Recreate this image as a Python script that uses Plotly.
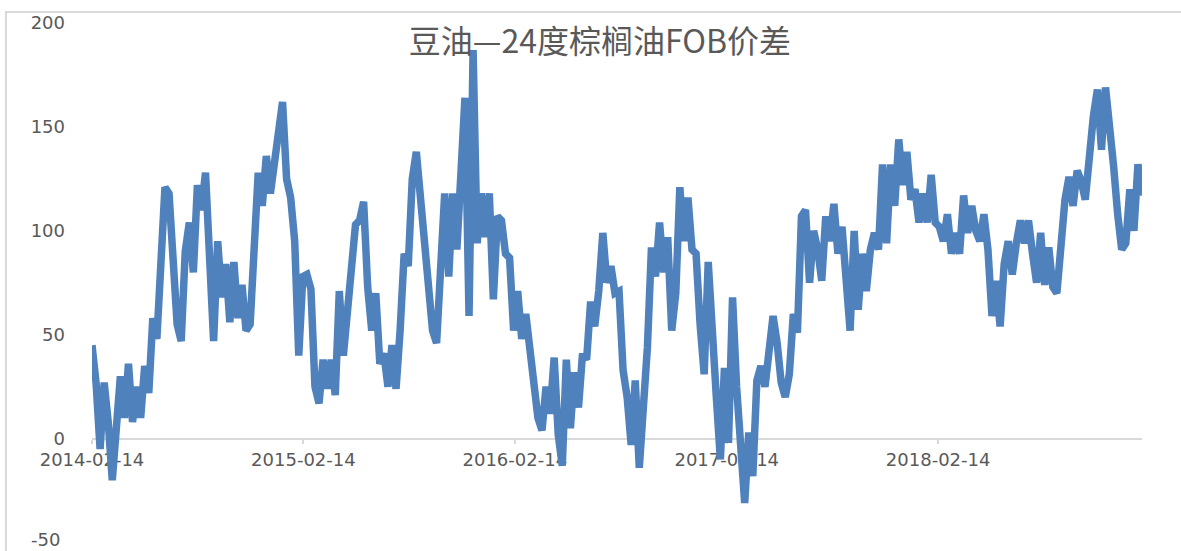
import pandas as pd
import plotly.graph_objects as go

# weekly readings (Fridays) of the soybean oil - 24° palm oil FOB spread
START = "2014-02-14"
END = "2019-02-01"

spread_2014 = [45, 27, -5, 27, 8, -20, 5, 30, 10, 36, 8, 25, 10, 35, 22, 58,
               48, 80, 121, 118, 90, 55, 47, 90, 104, 80, 122, 110, 128, 95,
               47, 95, 68, 84, 56, 85, 58, 74, 52, 55, 90, 128, 112, 136, 118,
               134, 152, 162, 125, 116, 95, 40]
spread_2015 = [78, 79, 72, 25, 17, 38, 24, 38, 21, 71, 40, 63, 84, 103, 105,
               114, 73, 52, 70, 36, 41, 25, 45, 24, 52, 89, 83, 125, 138, 118,
               99, 75, 52, 46, 86, 118, 78, 118, 91, 134, 164, 59, 187, 94,
               118, 97, 118, 67, 107, 105, 89, 87, 52]
spread_2016 = [71, 48, 60, 41, 22, 10, 4, 25, 12, 39, 2, -13, 38, 5, 32, 15,
               41, 38, 66, 54, 71, 99, 75, 83, 70, 71, 33, 20, -3, 28, -14,
               11, 44, 92, 78, 104, 80, 97, 52, 70, 121, 95, 116, 91, 89, 55,
               31, 85, 44, 20, -10, 34, -2]
spread_2017 = [68, 25, -9, -31, 3, -18, 28, 35, 25, 42, 59, 46, 27, 20, 31, 60,
               51, 107, 110, 75, 100, 91, 76, 107, 95, 113, 89, 102, 78, 52,
               100, 62, 89, 71, 91, 99, 91, 132, 94, 132, 112, 144, 122, 138,
               115, 120, 104, 118, 104, 127, 104, 102]
spread_2018 = [95, 108, 89, 99, 89, 117, 99, 112, 100, 95, 108, 91, 59, 76, 54,
               84, 95, 79, 94, 105, 94, 105, 89, 75, 99, 74, 92, 73, 70, 92,
               115, 126, 112, 129, 124, 115, 139, 155, 168, 139, 169, 152, 131,
               108, 91, 94, 120, 100, 132, 117]

values = spread_2014 + spread_2015 + spread_2016 + spread_2017 + spread_2018
dates = pd.date_range(START, periods=len(values), freq="7D")

tick_dates = ["2014-02-14", "2015-02-14", "2016-02-14", "2017-02-14", "2018-02-14"]
y_ticks = [0, 50, 100, 150, 200]
y_bottom_tick = -50

TITLE = "豆油—24度棕榈油FOB价差"
LINE_BLUE = "#4f81bd"
INK = "#595959"
RULE = "#d9d9d9"

fig = go.Figure()

fig.add_trace(go.Scatter(
    x=dates, y=values, mode="lines",
    line=dict(color=LINE_BLUE, width=7.5),
    showlegend=False, hoverinfo="x+y",
))

# chart-area border (cropped on the right and bottom in the source)
fig.add_shape(
    type="rect", xref="paper", yref="paper",
    x0=-0.082, x1=1.2, y0=-0.2, y1=1.021,
    line=dict(color=RULE, width=2), fillcolor="rgba(0,0,0,0)",
    layer="below",
)

# bottom axis label sits on the page edge, so it is placed by hand a few px up
fig.add_annotation(
    x=-0.0286, xref="paper", xanchor="right",
    y=y_bottom_tick, yref="y", yanchor="middle", yshift=3,
    text=str(y_bottom_tick), showarrow=False,
    font=dict(family="DejaVu Sans", size=18, color=INK),
)

fig.update_layout(
    width=1181, height=551,
    margin=dict(l=92, r=39, t=23, b=8, autoexpand=False),
    paper_bgcolor="white", plot_bgcolor="white",
    font=dict(family="DejaVu Sans", size=18, color=INK),
    title=dict(
        text=TITLE, x=0.508, xanchor="center", y=0.924, yanchor="middle",
        xref="container", yref="container",
        font=dict(family="Noto Sans CJK SC", size=32, color=INK),
    ),
    xaxis=dict(
        type="date", range=[START, END],
        anchor="free", position=0.2, automargin=False,
        tickvals=tick_dates, ticktext=tick_dates,
        showline=True, linecolor=RULE, linewidth=2,
        ticks="outside", ticklen=4, tickwidth=2, tickcolor=RULE,
        showgrid=False, zeroline=False,
        tickfont=dict(size=18, color=INK),
        layer="below traces",
    ),
    yaxis=dict(
        range=[-50.2, 200], automargin=False,
        tickvals=y_ticks, ticktext=[str(v) for v in y_ticks],
        showgrid=False, zeroline=False, showline=False,
        ticks="", ticklabelstandoff=26,
        tickfont=dict(size=18, color=INK),
        domain=[0, 1],
    ),
)

# the page body keeps an 8px default margin; drop it so the chart sits flush
fig.write_html(
    "out.html",
    config={"displayModeBar": False},
    post_script="document.body.style.margin='0';",
)
